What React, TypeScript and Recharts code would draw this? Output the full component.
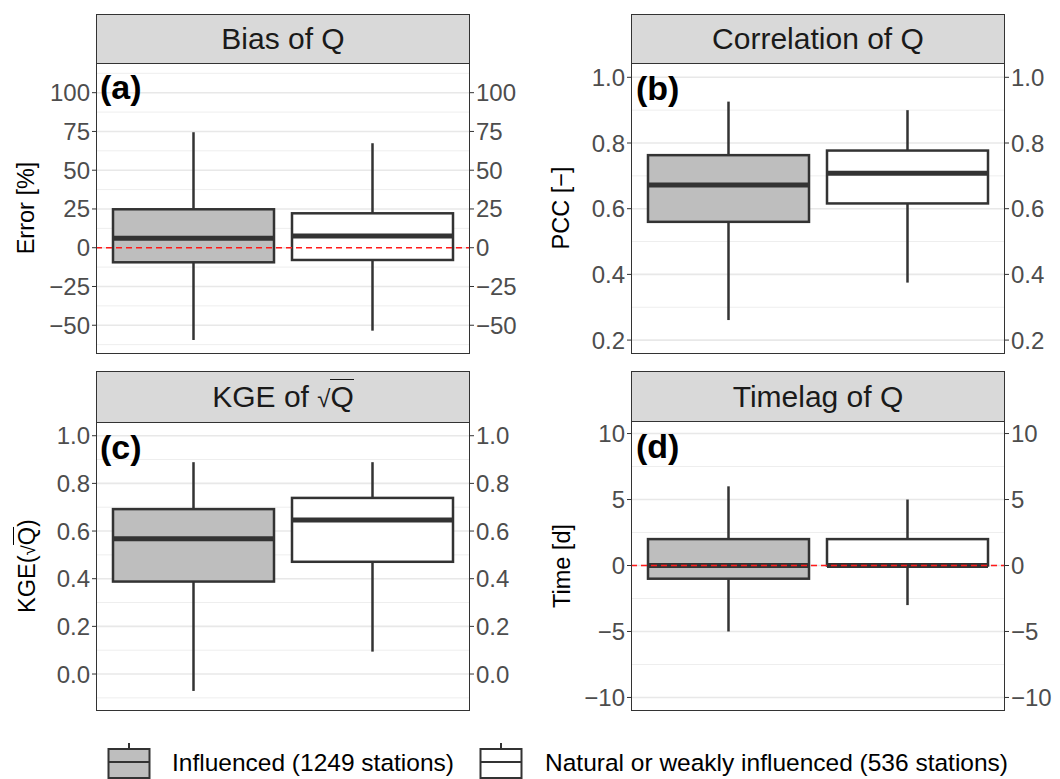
import React from 'react';
import { ComposedChart, Bar, XAxis, YAxis, ReferenceLine } from 'recharts';

const FONT = '"Liberation Sans", Arial, Helvetica, sans-serif';
const INK = '#333333';

const groups = ['Influenced (1249 stations)', 'Natural or weakly influenced (536 stations)'];

// box statistics, one value per group (influenced, natural)
const biasMin = [-59.5, -53.5];
const biasQ1 = [-9.4, -7.9];
const biasMed = [6.1, 7.5];
const biasQ3 = [24.8, 22.2];
const biasMax = [74.5, 67.4];
const biasTicks = [-50, -25, 0, 25, 50, 75, 100];
const biasMinor = [-62.5, -37.5, -12.5, 12.5, 37.5, 62.5, 87.5, 112.5];

const corMin = [0.261, 0.375];
const corQ1 = [0.56, 0.616];
const corMed = [0.672, 0.708];
const corQ3 = [0.763, 0.777];
const corMax = [0.926, 0.9];
const corTicks = [0.2, 0.4, 0.6, 0.8, 1.0];
const corMinor = [0.3, 0.5, 0.7, 0.9];

const kgeMin = [-0.071, 0.094];
const kgeQ1 = [0.388, 0.471];
const kgeMed = [0.568, 0.646];
const kgeQ3 = [0.692, 0.739];
const kgeMax = [0.889, 0.889];
const kgeTicks = [0.0, 0.2, 0.4, 0.6, 0.8, 1.0];
const kgeMinor = [-0.1, 0.1, 0.3, 0.5, 0.7, 0.9];

const lagMin = [-5, -3];
const lagQ1 = [-1, 0];
const lagMed = [0, 0];
const lagQ3 = [2, 2];
const lagMax = [6, 5];
const lagTicks = [-10, -5, 0, 5, 10];
const lagMinor = [-7.5, -2.5, 2.5, 7.5];

const BOX_FILLS = ['#bebebe', '#ffffff'];

const minus = (s: string) => s.replace('-', '\u2212');
const fmtInt = (v: number) => minus(String(v));
const fmtDec = (v: number) => minus(v.toFixed(1));

const buildRows = (mn: number[], q1: number[], md: number[], q3: number[], mx: number[]) =>
  groups.map((g, i) => ({ group: g, min: mn[i], q1: q1[i], med: md[i], q3: q3[i], max: mx[i] }));

const BoxShape = (props: any) => {
  const { x, y, width, height, payload, index } = props;
  if (x == null || payload == null) return null;
  const top = Math.min(y, y + height);
  const h = Math.abs(height);
  const span = payload.max - payload.min;
  const py = (v: number) => top + ((payload.max - v) / span) * h;
  const cx = x + width / 2;
  return (
    <g>
      <line x1={cx} x2={cx} y1={py(payload.max)} y2={py(payload.q3)} stroke={INK} strokeWidth={2.5} />
      <line x1={cx} x2={cx} y1={py(payload.q1)} y2={py(payload.min)} stroke={INK} strokeWidth={2.5} />
      <rect
        x={x}
        y={py(payload.q3)}
        width={width}
        height={py(payload.q1) - py(payload.q3)}
        fill={BOX_FILLS[index]}
        stroke={INK}
        strokeWidth={2.5}
      />
      <line x1={x} x2={x + width} y1={py(payload.med)} y2={py(payload.med)} stroke={INK} strokeWidth={5} />
    </g>
  );
};

interface PanelProps {
  left: number;
  top: number;
  height: number;
  mTop: number;
  mBottom: number;
  leftW: number;
  rightW: number;
  domain: [number, number];
  ticks: number[];
  minor: number[];
  fmt: (v: number) => string;
  rows: any[];
  zeroLine?: boolean;
}

const Panel = ({ left, top, height, mTop, mBottom, leftW, rightW, domain, ticks, minor, fmt, rows, zeroLine }: PanelProps) => {
  const tickStyle = { fill: '#4d4d4d', fontSize: 24 };
  return (
    <div style={{ position: 'absolute', left, top }}>
      <ComposedChart
        width={530}
        height={height}
        data={rows}
        margin={{ top: mTop, bottom: mBottom, left: 0, right: 0 }}
      >
        <XAxis dataKey="group" type="category" hide padding={{ left: 8, right: 8 }} />
        <YAxis
          yAxisId="l"
          orientation="left"
          width={leftW}
          type="number"
          domain={domain}
          ticks={ticks}
          allowDataOverflow
          tickFormatter={fmt}
          axisLine={false}
          tickLine={{ stroke: INK, strokeWidth: 1 }}
          tickSize={4}
          tickMargin={2}
          tick={tickStyle}
        />
        <YAxis
          yAxisId="r"
          orientation="right"
          width={rightW}
          type="number"
          domain={domain}
          ticks={ticks}
          allowDataOverflow
          tickFormatter={fmt}
          axisLine={false}
          tickLine={{ stroke: INK, strokeWidth: 1 }}
          tickSize={4}
          tickMargin={2}
          tick={tickStyle}
        />
        {minor.map((v) => (
          <ReferenceLine key={'m' + v} yAxisId="l" y={v} stroke="#eeeeee" strokeWidth={1} zIndex={-100} />
        ))}
        {ticks.map((v) => (
          <ReferenceLine key={'t' + v} yAxisId="l" y={v} stroke="#e8e8e8" strokeWidth={1.6} zIndex={-100} />
        ))}
        <Bar
          yAxisId="l"
          dataKey={(d: any) => [d.min, d.max]}
          barSize={161}
          shape={<BoxShape />}
          isAnimationActive={false}
        />
        {zeroLine && (
          <ReferenceLine yAxisId="l" y={0} stroke="#ff1a1a" strokeWidth={1.6} strokeDasharray="6 4" zIndex={1000} />
        )}
      </ComposedChart>
    </div>
  );
};

const Strip = ({ left, top, height, children }: any) => (
  <div
    style={{
      position: 'absolute',
      left,
      top,
      width: 374,
      height,
      boxSizing: 'border-box',
      background: '#d9d9d9',
      border: `1.3px solid ${INK}`,
      display: 'flex',
      alignItems: 'center',
      justifyContent: 'center',
      fontSize: 30,
      color: '#1a1a1a',
    }}
  >
    {children}
  </div>
);

const Frame = ({ left, top, height }: any) => (
  <div
    style={{
      position: 'absolute',
      left,
      top,
      width: 374,
      height,
      boxSizing: 'border-box',
      border: `1.3px solid ${INK}`,
      pointerEvents: 'none',
    }}
  />
);

const Tag = ({ left, top, children }: any) => (
  <div style={{ position: 'absolute', left, top, fontSize: 34, fontWeight: 'bold', lineHeight: '34px', color: '#000' }}>
    {children}
  </div>
);

const AxisTitle = ({ x, y, children }: any) => (
  <div
    style={{
      position: 'absolute',
      left: x,
      top: y,
      transform: 'translate(-50%, -50%) rotate(-90deg)',
      whiteSpace: 'nowrap',
      fontSize: 23.5,
      color: '#000',
      lineHeight: '26px',
    }}
  >
    {children}
  </div>
);

const Sqrt = () => (
  <span>
    <span style={{ fontSize: '0.8em' }}>√</span>
    <span style={{ borderTop: '1.3px solid currentColor', lineHeight: 1 }}>Q</span>
  </span>
);

const LegendKey = ({ left, fill }: any) => (
  <svg style={{ position: 'absolute', left, top: 743 }} width={44} height={36}>
    <line x1={22} x2={22} y1={0} y2={6} stroke={INK} strokeWidth={2} />
    <rect x={1.5} y={6} width={41} height={29} fill={fill} stroke={INK} strokeWidth={2} />
    <line x1={1.5} x2={42.5} y1={19} y2={19} stroke={INK} strokeWidth={2} />
  </svg>
);

export default function App() {
  const biasRows = buildRows(biasMin, biasQ1, biasMed, biasQ3, biasMax);
  const corRows = buildRows(corMin, corQ1, corMed, corQ3, corMax);
  const kgeRows = buildRows(kgeMin, kgeQ1, kgeMed, kgeQ3, kgeMax);
  const lagRows = buildRows(lagMin, lagQ1, lagMed, lagQ3, lagMax);

  return (
    <div
      style={{
        position: 'absolute',
        left: 0,
        top: 0,
        width: 1060,
        height: 779,
        background: '#fff',
        fontFamily: FONT,
        overflow: 'hidden',
      }}
    >
      <Panel left={0} top={0} height={365} mTop={64} mBottom={12} leftW={96} rightW={60}
        domain={[-67.9, 118.5]} ticks={biasTicks} minor={biasMinor} fmt={fmtInt} rows={biasRows} zeroLine />
      <Panel left={530} top={0} height={365} mTop={64} mBottom={12} leftW={101} rightW={55}
        domain={[0.1607, 1.0405]} ticks={corTicks} minor={corMinor} fmt={fmtDec} rows={corRows} />
      <Panel left={0} top={365} height={355} mTop={57} mBottom={10} leftW={96} rightW={60}
        domain={[-0.151, 1.0576]} ticks={kgeTicks} minor={kgeMinor} fmt={fmtDec} rows={kgeRows} />
      <Panel left={530} top={365} height={355} mTop={56} mBottom={10} leftW={101} rightW={55}
        domain={[-10.95, 10.95]} ticks={lagTicks} minor={lagMinor} fmt={fmtInt} rows={lagRows} zeroLine />

      <Frame left={96} top={63} height={291} />
      <Frame left={631} top={63} height={291} />
      <Frame left={96} top={421} height={290} />
      <Frame left={631} top={420} height={291} />

      <Strip left={96} top={14} height={50}>Bias of Q</Strip>
      <Strip left={631} top={14} height={50}>Correlation of Q</Strip>
      <Strip left={96} top={371} height={52}>
        <span>KGE of&nbsp;</span>
        <Sqrt />
      </Strip>
      <Strip left={631} top={371} height={51}>Timelag of Q</Strip>

      <Tag left={100} top={70}>(a)</Tag>
      <Tag left={636} top={71}>(b)</Tag>
      <Tag left={100} top={430}>(c)</Tag>
      <Tag left={636} top={429}>(d)</Tag>

      <AxisTitle x={26} y={208}>Error [%]</AxisTitle>
      <AxisTitle x={561} y={208}>PCC [−]</AxisTitle>
      <AxisTitle x={28} y={566}>
        KGE(<Sqrt />)
      </AxisTitle>
      <AxisTitle x={562} y={566}>Time [d]</AxisTitle>

      <LegendKey left={107} fill={BOX_FILLS[0]} />
      <div style={{ position: 'absolute', left: 172, top: 749, fontSize: 24.5, lineHeight: '28px', color: '#000' }}>
        {groups[0]}
      </div>
      <LegendKey left={479} fill={BOX_FILLS[1]} />
      <div style={{ position: 'absolute', left: 545, top: 749, fontSize: 24.5, lineHeight: '28px', color: '#000' }}>
        {groups[1]}
      </div>
    </div>
  );
}
